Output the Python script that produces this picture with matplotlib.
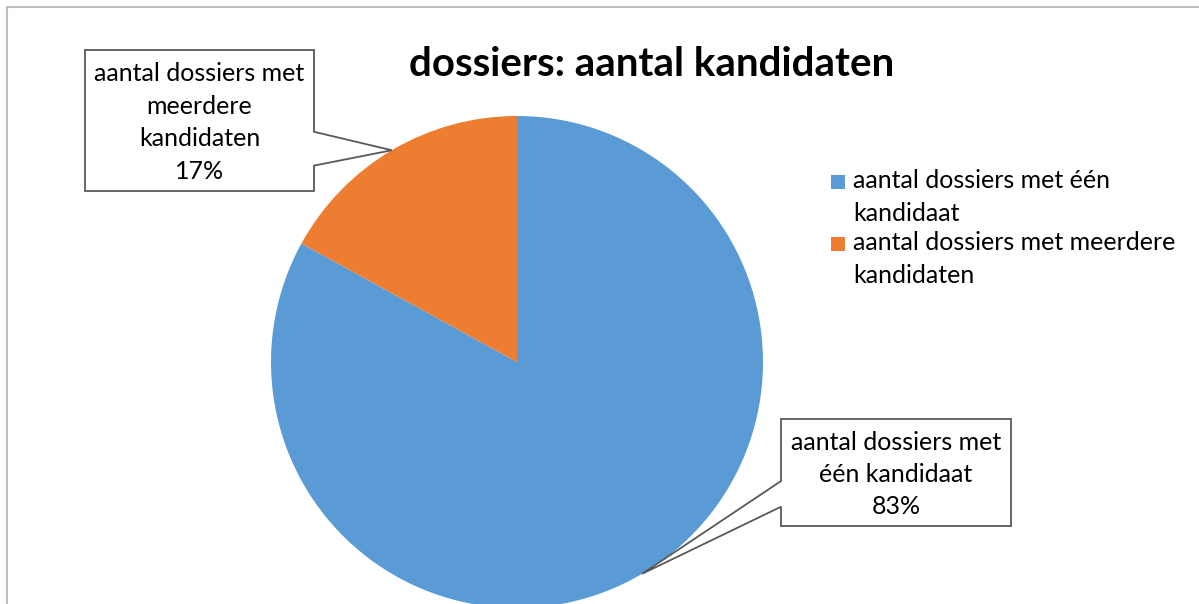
import numpy as np
import matplotlib.pyplot as plt
from matplotlib.patches import Polygon, Rectangle

# chart data
categories = ["aantal dossiers met één kandidaat", "aantal dossiers met meerdere kandidaten"]
shares = [83, 17]
colors = ["#5B9BD5", "#ED7D31"]
box_texts = ["aantal dossiers met\néén kandidaat", "aantal dossiers met\nmeerdere\nkandidaten"]
legend_texts = ["aantal dossiers met één\nkandidaat", "aantal dossiers met meerdere\nkandidaten"]
title = "dossiers: aantal kandidaten"

W, H = 1199, 604
FONT = "Lato"
EDGE = "#595959"
FS = 18


def Y(y):
    # pixel row (top origin) -> data y
    return H - y


def callout(ax, box, tip, side, text):
    x0, y0, x1, y1 = box
    h = y1 - y0
    a, b = y0 + 0.58 * h, y0 + 0.82 * h
    if side == "right":
        pts = [(x0, Y(y0)), (x1, Y(y0)), (x1, Y(a)), tip, (x1, Y(b)), (x1, Y(y1)), (x0, Y(y1))]
    else:
        pts = [(x0, Y(y0)), (x1, Y(y0)), (x1, Y(y1)), (x0, Y(y1)), (x0, Y(b)), tip, (x0, Y(a))]
    ax.add_patch(Polygon(pts, closed=True, facecolor="white", edgecolor=EDGE, lw=1.3, zorder=3))
    ax.text((x0 + x1) / 2, Y((y0 + y1) / 2 + 2), text, ha="center", va="center",
            fontsize=FS, family=FONT, linespacing=1.5, zorder=4)


fig = plt.figure(figsize=(W / 100, H / 100), dpi=100)
ax = fig.add_axes([0, 0, 1, 1])

center = (517, Y(362))
radius = 246
wedges, _ = ax.pie(shares, colors=colors, startangle=90, counterclock=False,
                   center=center, radius=radius, wedgeprops=dict(linewidth=0))
ax.set_xlim(0, W)
ax.set_ylim(0, H)
ax.set_aspect("equal")
ax.axis("off")

# outer chart frame (only top and left edges are visible)
ax.plot([7, 7, W], [0, Y(7), Y(7)], color="#BFBFBF", lw=1.5, solid_joinstyle="miter")

ax.text(652, Y(64), title, ha="center", va="center", fontsize=29,
        fontweight="bold", family=FONT)

# data label callouts pointing to the middle of each wedge
boxes = [((781, 419, 1011, 526), "left"), ((85, 50, 314, 191), "right")]
for w, share, txt, (box, side) in zip(wedges, shares, box_texts, boxes):
    mid = np.deg2rad((w.theta1 + w.theta2) / 2)
    tip = (center[0] + radius * np.cos(mid), center[1] + radius * np.sin(mid))
    callout(ax, box, tip, side, f"{txt}\n{share}%")

# legend: square sits on the first line of each entry
leg_rows = [188, 250]
for color, txt, base in zip(colors, legend_texts, leg_rows):
    ax.add_patch(Rectangle((831, Y(base + 1)), 14, 14, facecolor=color, edgecolor="none"))
    ax.text(853, Y(base) + 19, txt, ha="left", va="top", fontsize=FS,
            family=FONT, linespacing=1.55)

fig.savefig("out.png", dpi=100)
